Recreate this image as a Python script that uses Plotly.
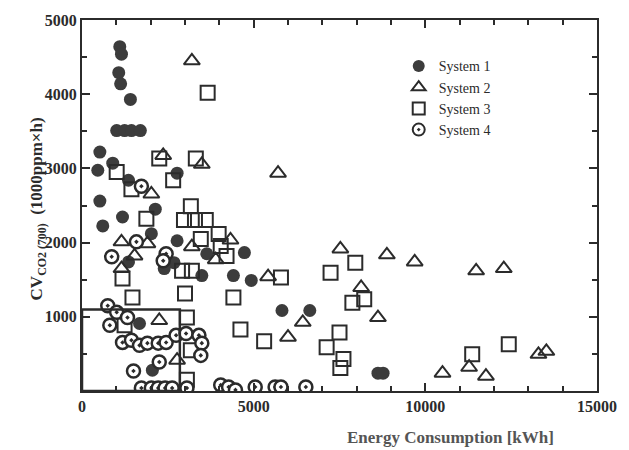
import plotly.graph_objects as go

# System 1 (filled circles)
s1_x = [1100, 1150, 1070, 1125, 1410, 1010, 1240, 1440, 1700, 520, 460, 895, 1355, 520, 1180,
        2135, 2770, 605, 2020, 2770, 1355, 2680, 2395, 3490, 3635, 4730, 4410, 4930, 5825, 6635,
        1675, 2050, 8620, 8770]
s1_y = [4640, 4540, 4290, 4140, 3930, 3510, 3510, 3510, 3510, 3220, 2975, 3070, 2840, 2560, 2345,
        2450, 2935, 2225, 2120, 2025, 1740, 1730, 1650, 1555, 1850, 1865, 1555, 1490, 1085, 1085,
        910, 280, 240, 240]

# System 2 (open triangles)
s2_x = [3200, 3490, 2365, 2020, 5710, 1150, 1905, 1530, 1150, 3200, 4325, 3895, 5420, 6430, 6000,
        7525, 8880, 9690, 8130, 8620, 2250, 2770, 11480, 12285, 11275, 10500, 11765, 13295, 13525]
s2_y = [4450, 3055, 3175, 2655, 2935, 2010, 1985, 1820, 1650, 1945, 2035, 1770, 1540, 925, 725,
        1915, 1835, 1740, 1395, 990, 950, 415, 1620, 1650, 320, 240, 200, 495, 535]

# System 3 (open squares)
s3_x = [3660, 2250, 3315, 2655, 1440, 1010, 3170, 1875, 2970, 3290, 3605, 3460, 3980, 4040, 4210,
        2915, 3200, 1180, 1470, 3000, 4410, 4615, 5305, 5795, 7240, 7960, 7875, 8220, 7500, 7125,
        7615, 7525, 11365, 12430, 1240, 3055, 3170, 3055]
s3_y = [4020, 3135, 3135, 2840, 2720, 2950, 2490, 2320, 2305, 2305, 2305, 2050, 2115, 1955, 1820,
        1620, 1620, 1515, 1260, 1315, 1260, 830, 670, 1530, 1595, 1730, 1190, 1235, 790, 590,
        430, 310, 495, 630, 885, 990, 550, 150]

# System 4 (dotted circles)
s4_x = [1730, 1585, 865, 2450, 2365, 750, 1010, 1325, 810, 1180, 1440, 1675, 1905, 2220, 2450,
        2740, 3030, 3405, 3490, 3460, 2250, 1500, 1730, 2020, 2220, 2420, 2625, 3055, 4040, 4270,
        4470, 5045, 5625, 5795, 6520]
s4_y = [2760, 2010, 1810, 1850, 1755, 1150, 1060, 990, 885, 655, 685, 615, 645, 645, 655,
        750, 775, 750, 645, 480, 390, 270, 40, 40, 40, 40, 40, 40, 80, 55,
        15, 55, 55, 55, 55]

names = ["System 1", "System 2", "System 3", "System 4"]
x_ticks = [0, 5000, 10000, 15000]
y_ticks = [1000, 2000, 3000, 4000, 5000]

ink = "#2b2b2b"
serif = "Liberation Serif"

fig = go.Figure()
fig.add_trace(go.Scatter(x=s1_x, y=s1_y, mode="markers", name=names[0],
                         marker=dict(symbol="circle", size=13, color="#3c3c3c",
                                     line=dict(color="#3c3c3c", width=0))))
fig.add_trace(go.Scatter(x=s2_x, y=s2_y, mode="markers", name=names[1],
                         marker=dict(symbol="triangle-up-open", size=14, color=ink,
                                     line=dict(color=ink, width=2))))
fig.add_trace(go.Scatter(x=s3_x, y=s3_y, mode="markers", name=names[2],
                         marker=dict(symbol="square-open", size=14, color=ink,
                                     line=dict(color=ink, width=2))))
fig.add_trace(go.Scatter(x=s4_x, y=s4_y, mode="markers", name=names[3],
                         marker=dict(symbol="circle-dot", size=13, color="white",
                                     line=dict(color=ink, width=2.5))))

fig.add_shape(type="rect", x0=0, x1=2850, y0=0, y1=1100, xref="x", yref="y",
              line=dict(color=ink, width=2.5))

fig.update_xaxes(range=[0, 15000], tickvals=x_ticks, ticktext=["<b>%d</b>" % v for v in x_ticks],
                 showgrid=False, zeroline=False, showline=True, linecolor=ink, linewidth=2,
                 mirror="ticks", ticks="inside", ticklen=8, tickwidth=2, tickcolor=ink,
                 minor=dict(dtick=1000, ticks="inside", ticklen=5, tickwidth=1.5, tickcolor=ink),
                 tickfont=dict(family=serif, size=16, color=ink))
fig.update_yaxes(range=[0, 5000], tickvals=y_ticks, ticktext=["<b>%d</b>" % v for v in y_ticks],
                 showgrid=False, zeroline=False, showline=True, linecolor=ink, linewidth=2,
                 mirror="ticks", ticks="inside", ticklen=8, tickwidth=2, tickcolor=ink,
                 minor=dict(dtick=500, ticks="inside", ticklen=5, tickwidth=1.5, tickcolor=ink),
                 tickfont=dict(family=serif, size=16, color=ink))

fig.add_annotation(text="<b>Energy Consumption [kWh]</b>", xref="paper", yref="paper",
                   x=0.715, y=-0.125, showarrow=False, xanchor="center", yanchor="middle",
                   font=dict(family=serif, size=17, color="#555555"))
fig.add_annotation(text="<b>CV<sub>CO2 (700)</sub>  (1000ppm×h)</b>", xref="paper", yref="paper",
                   x=-0.085, y=0.49, showarrow=False, textangle=-90, xanchor="center",
                   yanchor="middle", font=dict(family=serif, size=17, color=ink))

fig.update_layout(
    width=629, height=450,
    margin=dict(l=82, r=27, t=18, b=59),
    paper_bgcolor="white", plot_bgcolor="white",
    showlegend=True,
    legend=dict(x=0.615, y=0.918, xanchor="left", yanchor="top", bgcolor="rgba(0,0,0,0)",
                font=dict(family=serif, size=14, color=ink), tracegroupgap=0,
                itemsizing="constant"),
)

fig.write_html("out.html")
